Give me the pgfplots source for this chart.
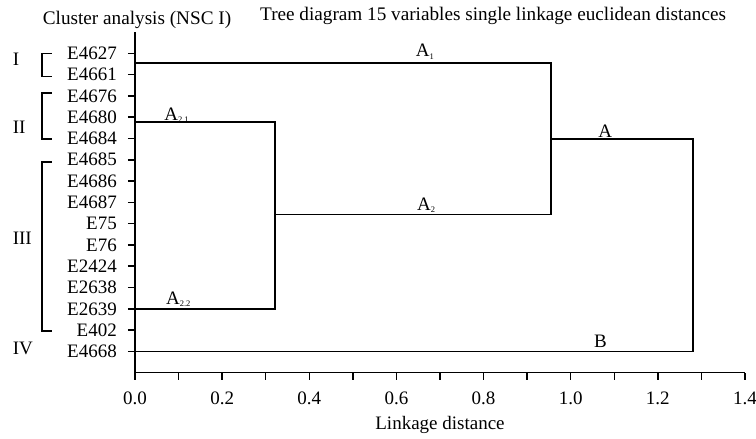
\documentclass[border=0pt]{standalone}
\usepackage{pgfplots}
\pgfplotsset{compat=1.18}
\usepackage{fontspec}
\setmainfont{Liberation Serif}
\newcommand{\sub}[1]{\raisebox{-0.25ex}{\fontsize{8.5}{9}\selectfont #1}}
\begin{document}
\begin{tikzpicture}
\path[use as bounding box] (0,0) rectangle (756pt,439pt);
\node[anchor=base west, inner sep=0pt, font=\fontsize{19.2}{21}\selectfont] at (42.7pt,414pt) {Cluster analysis (NSC I)};
\node[anchor=base west, inner sep=0pt, font=\fontsize{19.2}{21}\selectfont] at (260pt,418pt) {Tree diagram 15 variables single linkage euclidean distances};
\begin{axis}[
  scale only axis,
  width=610pt, height=340.7pt,
  at={(135pt,66.3pt)}, anchor=south west,
  xmin=0, xmax=1.4, ymin=0, ymax=16,
  axis x line*=bottom, axis y line*=left,
  axis line style={line width=1.5pt},
  every tick/.style={black, line width=1.5pt},
  tick align=outside,
  major tick length=7pt, minor tick length=7pt,
  xtick={0,0.2,...,1.4},
  minor x tick num=1,
  /pgf/number format/fixed,
  /pgf/number format/fixed zerofill,
  /pgf/number format/precision=1,
  /pgf/number format/assume math mode=true,
  xticklabel style={anchor=base, inner sep=0pt, yshift=-25.3pt},
  ytick={1,2,...,15},
  yticklabels={E4668,E402,E2639,E2638,E2424,E76,E75,E4687,E4686,E4685,E4684,E4680,E4676,E4661,E4627},
  yticklabel style={anchor=east, inner sep=0pt, xshift=-11pt},
  tick label style={font=\fontsize{19}{20}\selectfont},
  xlabel={Linkage distance},
  xlabel style={at={(axis description cs:0.5,0)}, anchor=base, inner sep=0pt, yshift=-57.3pt, font=\fontsize{19}{20}\selectfont},
  clip=false,
]
\addplot[black, line width=1.8pt] coordinates {(0,14.55) (0.955,14.55) (0.955,7.43) (0.322,7.43)};
\addplot[black, line width=1.8pt] coordinates {(0,11.77) (0.322,11.77) (0.322,3) (0,3)};
\addplot[black, line width=1.8pt] coordinates {(0.955,10.97) (1.28,10.97) (1.28,1) (0,1)};
% branch labels
\begin{scope}[every node/.style={anchor=base west, inner sep=0pt, font=\fontsize{19}{20}\selectfont}]
\node at (axis cs:0.644,14.55) [yshift=6pt] {A\sub{1}};
\node at (axis cs:0.067,11.77) [yshift=1.8pt] {A\sub{2.1}};
\node at (axis cs:0.647,7.43) [yshift=4pt] {A\sub{2}};
\node at (axis cs:0.071,3) [yshift=4pt] {A\sub{2.2}};
\node at (axis cs:1.063,10.97) [yshift=2pt] {A};
\node at (axis cs:1.053,1) [yshift=4pt] {B};
\end{scope}
% group brackets
\draw[black, line width=1.5pt] (axis cs:-0.1905,15.0) -- (axis cs:-0.2135,15.0) -- (axis cs:-0.2135,13.92) -- (axis cs:-0.1905,13.92);
\draw[black, line width=1.5pt] (axis cs:-0.1905,13.13) -- (axis cs:-0.2135,13.13) -- (axis cs:-0.2135,10.97) -- (axis cs:-0.1905,10.97);
\draw[black, line width=1.5pt] (axis cs:-0.1905,9.89) -- (axis cs:-0.2135,9.89) -- (axis cs:-0.2135,1.96) -- (axis cs:-0.1905,1.96);
\begin{scope}[every node/.style={anchor=west, inner sep=0pt, font=\fontsize{19}{20}\selectfont}]
\node at (axis cs:-0.281,14.7) {I};
\node at (axis cs:-0.281,11.53) {II};
\node at (axis cs:-0.281,6.32) {III};
\node at (axis cs:-0.281,1.16) {IV};
\end{scope}
\end{axis}
\end{tikzpicture}
\end{document}
